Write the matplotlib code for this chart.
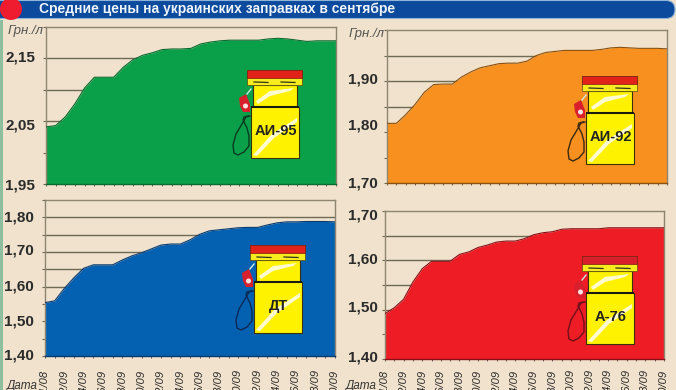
import matplotlib
matplotlib.use("Agg")
import matplotlib.pyplot as plt
from matplotlib.patches import Circle, FancyBboxPatch, Polygon, Rectangle

W, H = 676, 390
BG = "#f0e2cc"
plt.rcParams["font.family"] = ["Liberation Sans", "DejaVu Sans"]

title = "Средние цены на украинских заправках в сентябре"
dates = ["31/08", "02/09", "04/09", "06/09", "08/09", "10/09", "12/09", "14/09",
         "16/09", "18/09", "20/09", "22/09", "24/09", "26/09", "28/09", "30/09"]

ai95 = [2.041, 2.043, 2.057, 2.078, 2.103, 2.120, 2.120, 2.120, 2.136, 2.148, 2.155,
        2.159, 2.164, 2.165, 2.165, 2.166, 2.173, 2.176, 2.178, 2.179, 2.179, 2.179,
        2.179, 2.181, 2.182, 2.181, 2.179, 2.177, 2.178, 2.178, 2.178]
ai92 = [1.817, 1.817, 1.834, 1.854, 1.878, 1.893, 1.894, 1.894, 1.908, 1.918, 1.926,
        1.930, 1.934, 1.935, 1.935, 1.939, 1.950, 1.956, 1.958, 1.960, 1.960, 1.960,
        1.960, 1.962, 1.965, 1.966, 1.965, 1.964, 1.964, 1.964, 1.963]
dt = [1.554, 1.559, 1.595, 1.626, 1.653, 1.663, 1.663, 1.663, 1.677, 1.689, 1.698,
      1.709, 1.720, 1.723, 1.723, 1.735, 1.751, 1.761, 1.764, 1.767, 1.770, 1.771,
      1.771, 1.778, 1.784, 1.787, 1.787, 1.788, 1.788, 1.788, 1.787]
a76 = [1.492, 1.504, 1.521, 1.556, 1.583, 1.598, 1.598, 1.598, 1.612, 1.617, 1.626,
       1.631, 1.637, 1.639, 1.639, 1.644, 1.652, 1.656, 1.658, 1.663, 1.664, 1.664,
       1.664, 1.664, 1.666, 1.666, 1.666, 1.666, 1.666, 1.666, 1.666]

ticks95 = [1.95, 2.05, 2.15]
ticks92 = [1.70, 1.80, 1.90]
ticksdt = [1.40, 1.50, 1.60, 1.70, 1.80]
ticks76 = [1.40, 1.50, 1.60, 1.70]


def pixel_axes(fig, left, top, right, bottom):
    return fig.add_axes([left / W, 1 - bottom / H, (right - left) / W, (bottom - top) / H])


def draw_panel(fig, box, values, ylim, ticks, shifts, label_gap, color, edge, show_unit, show_dates):
    ax = pixel_axes(fig, *box)
    ax.set_facecolor(BG)
    days = list(range(len(values)))
    ax.set_xlim(0, 30)
    ax.set_ylim(*ylim)

    step = 0.05
    n = round((ylim[1] - ylim[0]) / step)
    grid = [ylim[0] + step * i for i in range(n + 1)]
    for y in grid[1:-1]:
        ax.axhline(y, color="#6f6a55", linewidth=1.0, zorder=1)
    ax.fill_between(days, ylim[0], values, color=color, linewidth=0, zorder=2)
    ax.plot(days, values, color=edge, linewidth=0.8, zorder=3)

    for side in ax.spines.values():
        side.set_color("#8f8570")
        side.set_linewidth(1.0)
    ax.spines["bottom"].set_color(edge)

    ax.set_yticks(grid)
    ax.set_yticklabels([])
    ax.tick_params(axis="y", length=2, width=0.8, color="#6f6a55")
    ax.set_xticks(days)
    ax.set_xticklabels([])
    ax.tick_params(axis="x", length=1.5, width=0.6, color="#444444", direction="out")

    trans = ax.get_yaxis_transform()
    for value, shift in zip(ticks, shifts):
        ax.annotate(f"{value:.2f}".replace(".", ","), xy=(0, value), xycoords=trans,
                    xytext=(-label_gap * 0.72, shift * 0.72), textcoords="offset points",
                    ha="right", va="center", fontsize=11, fontweight="bold",
                    color="#2b2b2b", annotation_clip=False)
    if show_unit:
        ax.annotate("Грн./л", xy=(0, 1), xycoords="axes fraction", xytext=(-2, -3),
                    textcoords="offset points", ha="right", va="center",
                    fontsize=9.5, style="italic", color="#555555", annotation_clip=False)
    if show_dates:
        for i, label in enumerate(dates):
            ax.annotate(label, xy=(i * 2, ylim[0]), xycoords="data",
                        xytext=(0, (box[3] - 370) * 0.72), textcoords="offset points",
                        rotation=90, ha="center", va="top", fontsize=8,
                        style="italic", color="#2b2b2b", annotation_clip=False)
    return ax


def draw_pump(ov, dx, dy, label, band, hose):
    # picture of the pump, all in pixels
    def box(x0, y0, x1, y1, face, edge="#3a3010", lw=0.8):
        ov.add_patch(Rectangle((x0 + dx, y0 + dy), x1 - x0, y1 - y0, facecolor=face,
                               edgecolor=edge, linewidth=lw))

    box(253, 85, 297, 106, "#fff200")
    box(251, 107, 299, 158, "#fff200")
    box(247, 70, 302, 85, "#f6ec1e", edge="#5a4a10", lw=0.5)
    box(247, 70, 302, 77.5, band, edge="#7a1a10", lw=0.5)
    box(251, 105.5, 299, 108, "#1a1a10", edge="none", lw=0)
    for x in (254, 281):
        ov.plot([x + dx, x + 14 + dx], [82 + dy, 82.5 + dy], color="#333322", linewidth=0.9)
    ov.add_patch(Polygon([(256 + dx, 101 + dy), (270 + dx, 91 + dy), (294 + dx, 88 + dy),
                          (290 + dx, 91 + dy), (270 + dx, 96 + dy), (258 + dx, 104 + dy)],
                         facecolor="#fffbd0", edgecolor="none"))
    ov.add_patch(Polygon([(253 + dx, 155 + dy), (272 + dx, 134 + dy), (297 + dx, 118 + dy),
                          (297 + dx, 122 + dy), (274 + dx, 138 + dy), (257 + dx, 156 + dy)],
                         facecolor="#fffbd0", edgecolor="none"))
    ov.add_patch(Polygon([(239 + dx, 98 + dy), (246 + dx, 94 + dy), (250 + dx, 104 + dy),
                          (250 + dx, 112 + dy), (243 + dx, 112 + dy), (240 + dx, 106 + dy)],
                         facecolor="#d8202c", edgecolor="none"))
    ov.add_patch(Circle((245.5 + dx, 106 + dy), 2.5, facecolor="#fbe3e3", edgecolor="none"))
    ov.plot([247 + dx, 251 + dx], [94 + dy, 89 + dy], color="#cfe8e0", linewidth=1)
    hx = [250, 246, 242, 236, 233, 234, 238, 244, 249, 249, 247, 243, 244, 248]
    hy = [116, 117, 124, 134, 145, 153, 155, 152, 146, 136, 128, 120, 117, 116]
    ov.plot([x + dx for x in hx], [y + dy for y in hy], color=hose, linewidth=1.0)
    ov.text(275.5 + dx, 131 + dy, label, ha="center", va="center", fontsize=10.5,
            fontweight="bold", color="#222222")


fig = plt.figure(figsize=(W / 100, H / 100), dpi=100, facecolor=BG)

draw_panel(fig, (46, 27, 336, 184), ai95, (1.95, 2.20), ticks95, [-1, -4, 1], 11,
           "#0aa04a", "#0a6a30", True, False)
draw_panel(fig, (387, 30, 667, 183), ai92, (1.70, 2.00), ticks92, [0, 6, 1], 9,
           "#f7901e", "#8a5010", True, False)
draw_panel(fig, (45, 200, 335, 356), dt, (1.40, 1.85), ticksdt, [0, 0, 0, 1, 0], 11,
           "#0461b1", "#0a3a70", False, True)
draw_panel(fig, (385, 211, 664, 359), a76, (1.40, 1.70), ticks76, [1, 2, 1, -4], 7,
           "#ee1c25", "#8a1018", False, True)

ov = fig.add_axes([0, 0, 1, 1], zorder=5)
ov.set_xlim(0, W)
ov.set_ylim(H, 0)
ov.axis("off")

ov.add_patch(FancyBboxPatch((-20, 0.5), 695, 18, boxstyle="round,pad=0,rounding_size=9",
                            facecolor="#0b4a9c", edgecolor="#8fb4d8", linewidth=0.8))
ov.add_patch(Rectangle((0, 20), 3, 370, facecolor="#8dbf9e", edgecolor="none"))
ov.add_patch(Circle((11, 9), 11, facecolor="#ee1c2e", edgecolor="none"))
ov.text(39, 9.5, title, ha="left", va="center", fontsize=10, fontweight="bold", color="#eef4fb")

draw_pump(ov, 0, 0, "АИ-95", "#e2231a", "#0a3a20")
draw_pump(ov, 335, 6, "АИ-92", "#e2231a", "#3a2a10")
draw_pump(ov, 3, 175, "ДТ", "#e2231a", "#0a2a55")
draw_pump(ov, 335, 186, "А-76", "#d8202c", "#701018")

ov.text(6, 392, "Дата", ha="left", va="bottom", fontsize=8.5, style="italic", color="#333333")
ov.text(345, 392, "Дата", ha="left", va="bottom", fontsize=8.5, style="italic", color="#333333")

fig.savefig("out.png", dpi=100, facecolor=BG)
